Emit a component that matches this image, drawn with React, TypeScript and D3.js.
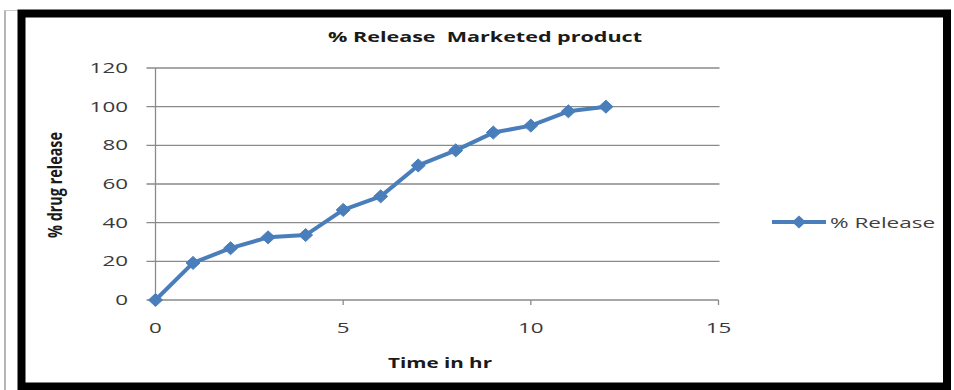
import React from "react";
import * as d3 from "d3";

// Dissolution profile of the marketed product
const timeHr: number[] = [0, 1, 2, 3, 4, 5, 6, 7, 8, 9, 10, 11, 12];
const releasePct: number[] = [0, 19.2, 26.8, 32.4, 33.6, 46.6, 53.6, 69.6, 77.4, 86.6, 90.2, 97.6, 100];
const yTicks: number[] = [0, 20, 40, 60, 80, 100, 120];
const xTicks: number[] = [0, 5, 10, 15];
const seriesName = "% Release";
const chartTitle = "% Release\u00A0 Marketed product";
const xTitle = "Time in hr";
const yTitle = "% drug release";

const W = 954;
const H = 390;
const BLUE = "#4A7EBB";
const GRID = "#8a8a8a";
const FONT = "'Open Sans', 'Liberation Sans', sans-serif";
const SX = 1.6; // horizontal glyph stretch used for all labels

const x = d3.scaleLinear().domain([0, 15]).range([155.5, 718.5]);
const y = d3.scaleLinear().domain([0, 120]).range([300, 68]);

const line = d3
  .line<number>()
  .x((_, i) => x(timeHr[i]))
  .y((d) => y(d));

const diamond = (cx: number, cy: number, rx = 7, ry = 6.5) =>
  `M${cx},${cy - ry}L${cx + rx},${cy}L${cx},${cy + ry}L${cx - rx},${cy}Z`;

export default function App() {
  const [x0, x1] = x.range();
  return (
    <svg
      width={W}
      height={H}
      viewBox={`0 0 ${W} ${H}`}
      style={{ position: "absolute", left: 0, top: 0, background: "#fff" }}
    >
      {/* page edge */}
      <line x1={5} y1={10} x2={5} y2={H} stroke="#b5b5b5" strokeWidth={2} />
      <line x1={4} y1={10.5} x2={18} y2={10.5} stroke="#c8c8c8" strokeWidth={1} />

      {/* chart frame */}
      <rect x={21.5} y={13.5} width={925.5} height={373} fill="#fff" stroke="#000" strokeWidth={8} />

      {/* title */}
      <text
        x={485}
        y={42}
        textAnchor="middle"
        fontFamily={FONT}
        fontWeight="bold"
        fontSize={15}
        fill="#1a1a1a"
        textLength={314}
        lengthAdjust="spacingAndGlyphs"
      >
        {chartTitle}
      </text>

      {/* horizontal gridlines and y ticks */}
      {yTicks.map((t) => (
        <g key={`y${t}`}>
          <line x1={x0 - 9} x2={t === 0 ? x1 : x1 + 1} y1={y(t)} y2={y(t)} stroke={GRID} strokeWidth={1.3} />
          <text
            transform={`translate(128,${y(t) + 5}) scale(${SX},1)`}
            textAnchor="end"
            fontFamily={FONT}
            fontSize={14}
            fill="#3a3a3a"
          >
            {t}
          </text>
        </g>
      ))}

      {/* y axis line */}
      <line x1={x0} x2={x0} y1={y(120)} y2={y(0)} stroke={GRID} strokeWidth={1.3} />

      {/* x ticks */}
      {xTicks.map((t) => (
        <g key={`x${t}`}>
          <line x1={x(t)} x2={x(t)} y1={y(0)} y2={y(0) + 5} stroke={GRID} strokeWidth={1.3} />
          <text
            transform={`translate(${x(t)},333) scale(${SX},1)`}
            textAnchor="middle"
            fontFamily={FONT}
            fontSize={14}
            fill="#3a3a3a"
          >
            {t}
          </text>
        </g>
      ))}

      {/* axis titles */}
      <text
        x={440}
        y={368}
        textAnchor="middle"
        fontFamily={FONT}
        fontWeight="bold"
        fontSize={14}
        fill="#1a1a1a"
        textLength={104}
        lengthAdjust="spacingAndGlyphs"
      >
        {xTitle}
      </text>
      <text
        transform={`translate(62,185) scale(${SX},1) rotate(-90)`}
        textAnchor="middle"
        fontFamily={FONT}
        fontWeight="bold"
        fontSize={12}
        fill="#1a1a1a"
        textLength={106}
        lengthAdjust="spacingAndGlyphs"
      >
        {yTitle}
      </text>

      {/* series */}
      <path
        d={line(releasePct) ?? ""}
        fill="none"
        stroke={BLUE}
        strokeWidth={4}
        strokeLinejoin="round"
        strokeLinecap="round"
      />
      {releasePct.map((v, i) => (
        <path key={`m${i}`} d={diamond(x(timeHr[i]), y(v))} fill={BLUE} stroke={BLUE} strokeWidth={1} />
      ))}

      {/* legend */}
      <line x1={772} x2={826} y1={222} y2={222} stroke={BLUE} strokeWidth={4} />
      <path d={diamond(799, 222)} fill={BLUE} />
      <text
        x={830}
        y={227.5}
        fontFamily={FONT}
        fontSize={15}
        fill="#404040"
        textLength={105}
        lengthAdjust="spacingAndGlyphs"
      >
        {seriesName}
      </text>
    </svg>
  );
}
